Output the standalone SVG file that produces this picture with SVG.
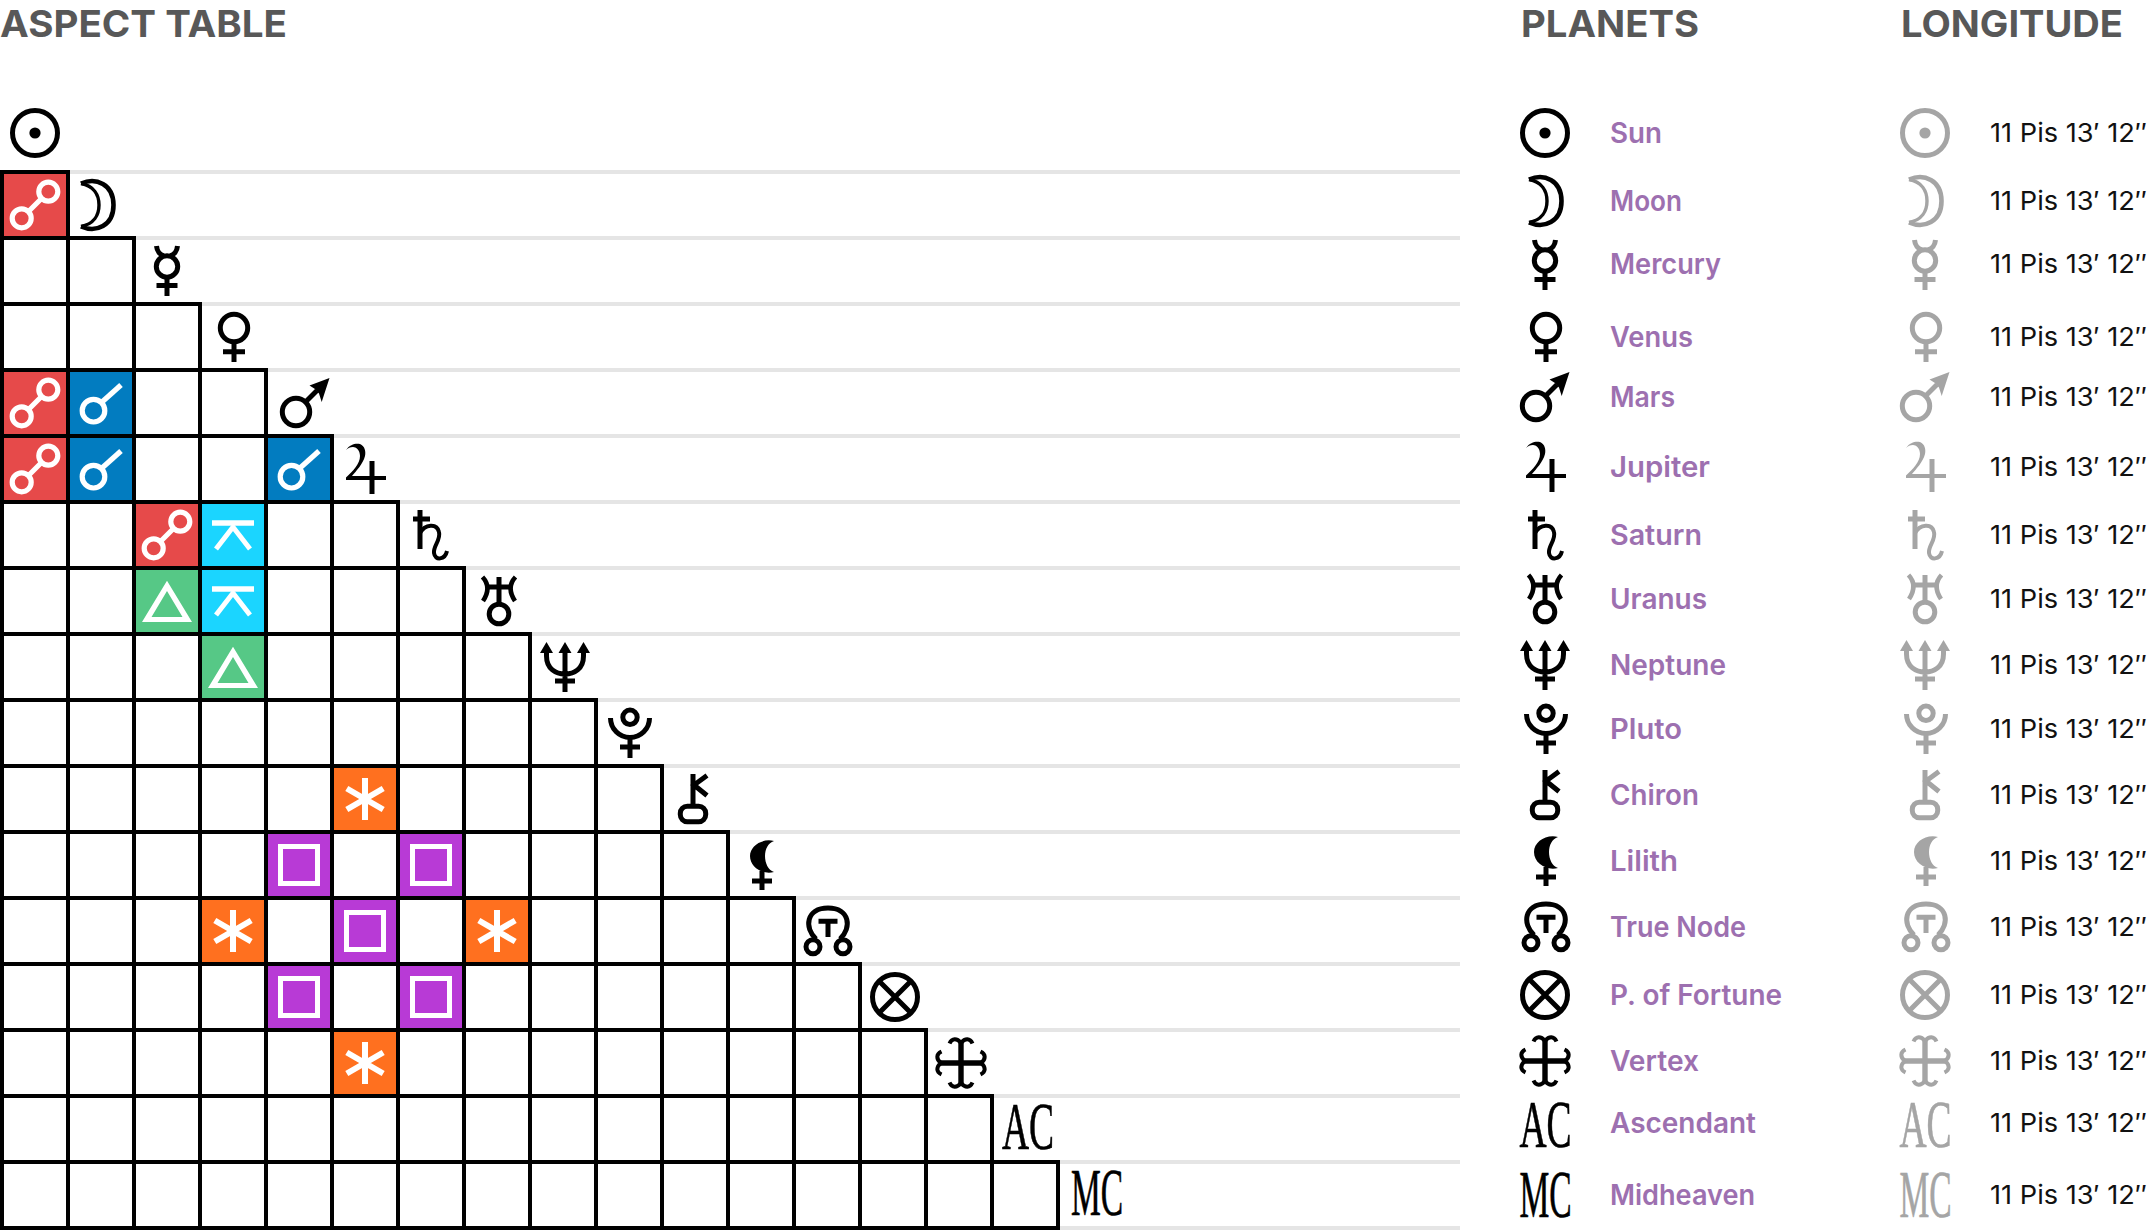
<svg xmlns="http://www.w3.org/2000/svg" width="2156" height="1230" viewBox="0 0 2156 1230">
<style>
text{font-family:"Inter","Liberation Sans",sans-serif}
.h{font-size:37.5px;font-weight:700;fill:#585858}
.l{font-size:28px;font-weight:600;fill:#9d70b0}
.v{font-size:26px;font-weight:400;fill:#111}
.s{font-family:"Liberation Serif",serif;font-size:67px;fill:currentColor;stroke:currentColor;stroke-width:.7}
.g{fill:none;stroke:currentColor;stroke-width:5}
.f{fill:currentColor;stroke:none}
.k{color:#000}.m{color:#a5a5a5}
.a{fill:none;stroke:#fff;stroke-width:5.2}
.af{fill:#fff;stroke:none;fill-rule:evenodd}
.red{fill:#e64a4a}.blue{fill:#027cc0}.cyan{fill:#1bd5ff}.green{fill:#56c886}.orange{fill:#ff701f}.purple{fill:#b83ad6}
#grid{fill:none;stroke:#000;stroke-width:4}
#rules{fill:none;stroke:#e5e5e5;stroke-width:4}
</style>
<defs>
<g id="i-sun"><circle class="g" cx="0" cy="25" r="22.5"/><circle class="f" cx="0" cy="25" r="5.6"/></g>
<g id="i-moon"><path class="g" style="stroke-width:4.6" d="M-17,3.5C-2,-3 15.5,4 15.5,25C15.5,46 -2,53 -17,46.5"/><path class="g" style="stroke-width:3.4" d="M-17,3.5C-4,6 1,15 1,25C1,35 -4,44 -17,46.5"/></g>
<g id="i-mercury"><circle class="g" cx="0" cy="20.5" r="10.7"/><path class="g" d="M-10.5,0C-10,5 -7,9 -3,10M10.5,0C10,5 7,9 3,10M0,31V50M-10.5,39.5H10.5"/></g>
<g id="i-venus"><circle class="g" cx="0" cy="16" r="13.7"/><path class="g" d="M0,30V50M-11,39.7H11"/></g>
<g id="i-mars"><circle class="g" cx="-9" cy="34" r="13.7"/><path class="g" d="M1,23.5L12,12.5"/><path class="f" d="M24.5,0L4.5,7.5L10,11L14,15.5L16.7,24Z"/></g>
<g id="i-jupiter"><path class="f" d="M-20,6C-16,0 -10,-1 -6,0C-1,2 0,8 -1,12C-3,20 -10,27 -14,32H20V36H-20V33.5C-13,27 -6,20 -6,12C-6,6 -10,3 -13,3C-16,3 -18,4 -20,6Z"/><path class="g" d="M6,17V50"/></g>
<g id="i-saturn"><path class="g" d="M-11,0V39M-18,9H-1"/><path class="g" style="stroke-width:4" d="M-11,23C-6,14 6,13 8,22C10,30 2,36 3,43C4,51 14,50 16,41"/></g>
<g id="i-uranus"><circle class="g" cx="0" cy="38" r="9.8"/><path class="g" d="M0,1V28M-12,11H12"/><path class="g" style="stroke-width:4.6" d="M-16.5,1C-10,8 -10,16 -16,25M16.5,1C10,8 10,16 16,25"/></g>
<g id="i-neptune"><path class="g" d="M0,6V50M-10,39H10M-18.5,8V14C-18.5,27 -9,32 0,32C9,32 18.5,27 18.5,14V8"/><path class="f" d="M0,0L6.5,11H-6.5ZM-18.5,0L-12,11H-25ZM18.5,0L25,11H12Z"/></g>
<g id="i-pluto"><circle class="g" cx="0" cy="9.3" r="7.2"/><path class="g" d="M-19.5,10A19.5,19.5 0 0 0 19.5,10M0,29V50M-10,39H10"/></g>
<g id="i-chiron"><rect class="g" x="-12.7" y="32.2" width="25.4" height="15.5" rx="7"/><path class="g" d="M0,0V32M14,1.5L1,11L14,21.5"/></g>
<g id="i-lilith"><path class="f" d="M12,1C0,-2 -12,6 -12,16C-12,27 0,35 12,32C6,30 3,23 3,16C3,9 6,3 12,1Z"/><path class="g" d="M0,31V50M-10,41H10"/></g>
<g id="i-node"><path class="g" d="M-12,33C-24,22 -22,2 0,2C22,2 24,22 12,33M-9.5,15.3H9.5M0,15V31"/><circle class="g" cx="-15" cy="40.7" r="7"/><circle class="g" cx="15" cy="40.7" r="7"/></g>
<g id="i-fortune"><circle class="g" cx="0" cy="25" r="22.5"/><path class="g" d="M-16,9L16,41M16,9L-16,41"/></g>
<g id="i-vertex"><path class="g" style="stroke-width:5.4" d="M0,4V46M-21,25H21"/><g id="i-vc"><path class="g" style="stroke-width:4" d="M-11.5,5.5C-9,0 -4,0 0,5C4,0 9,0 11.5,5.5"/></g><use href="#i-vc" transform="rotate(90 0 25)"/><use href="#i-vc" transform="rotate(180 0 25)"/><use href="#i-vc" transform="rotate(270 0 25)"/></g>
<g id="a-opp"><circle class="a" cx="13.3" cy="-13.3" r="9.5"/><circle class="a" cx="-13.3" cy="13.3" r="9.5"/><path class="a" d="M-6.5,6.5L6.5,-6.5"/></g>
<g id="a-con"><circle class="a" cx="-7.5" cy="7.7" r="11.3"/><path class="a" d="M1,-1L20,-18"/></g>
<g id="a-qui"><path class="a" style="stroke-width:5.5" d="M-21,-12H21"/><path class="a" style="stroke-width:5" d="M-17,14L0,-8L17,14"/></g>
<g id="a-tri"><path class="af" d="M0,-20.3L25,21H-25ZM0,-10L-15.5,16H15.5Z"/></g>
<g id="a-sex"><path class="a" style="stroke-width:6" d="M0,-21V21M-18.2,-10.5L18.2,10.5M-18.2,10.5L18.2,-10.5"/></g>
<g id="a-squ"><rect class="a" style="stroke-width:5" x="-18.5" y="-18.5" width="37" height="37"/></g>
</defs>

<g id="titles">
<text class="h" x="0" y="37" textLength="287" lengthAdjust="spacingAndGlyphs">ASPECT TABLE</text>
<text class="h" x="1521" y="37" textLength="178" lengthAdjust="spacingAndGlyphs">PLANETS</text>
<text class="h" x="1901" y="37" textLength="222" lengthAdjust="spacingAndGlyphs">LONGITUDE</text>
</g>

<g id="aspects">
<g id="c1-1"><rect class="red" x="2" y="172" width="66" height="66"/><use href="#a-opp" transform="translate(35,205)"/></g>
<g id="c4-1"><rect class="red" x="2" y="370" width="66" height="66"/><use href="#a-opp" transform="translate(35,403)"/></g>
<g id="c4-2"><rect class="blue" x="68" y="370" width="66" height="66"/><use href="#a-con" transform="translate(101,403)"/></g>
<g id="c5-1"><rect class="red" x="2" y="436" width="66" height="66"/><use href="#a-opp" transform="translate(35,469)"/></g>
<g id="c5-2"><rect class="blue" x="68" y="436" width="66" height="66"/><use href="#a-con" transform="translate(101,469)"/></g>
<g id="c5-5"><rect class="blue" x="266" y="436" width="66" height="66"/><use href="#a-con" transform="translate(299,469)"/></g>
<g id="c6-3"><rect class="red" x="134" y="502" width="66" height="66"/><use href="#a-opp" transform="translate(167,535)"/></g>
<g id="c6-4"><rect class="cyan" x="200" y="502" width="66" height="66"/><use href="#a-qui" transform="translate(233,535)"/></g>
<g id="c7-3"><rect class="green" x="134" y="568" width="66" height="66"/><use href="#a-tri" transform="translate(167,601)"/></g>
<g id="c7-4"><rect class="cyan" x="200" y="568" width="66" height="66"/><use href="#a-qui" transform="translate(233,601)"/></g>
<g id="c8-4"><rect class="green" x="200" y="634" width="66" height="66"/><use href="#a-tri" transform="translate(233,667)"/></g>
<g id="c10-6"><rect class="orange" x="332" y="766" width="66" height="66"/><use href="#a-sex" transform="translate(365,799)"/></g>
<g id="c11-5"><rect class="purple" x="266" y="832" width="66" height="66"/><use href="#a-squ" transform="translate(299,865)"/></g>
<g id="c11-7"><rect class="purple" x="398" y="832" width="66" height="66"/><use href="#a-squ" transform="translate(431,865)"/></g>
<g id="c12-4"><rect class="orange" x="200" y="898" width="66" height="66"/><use href="#a-sex" transform="translate(233,931)"/></g>
<g id="c12-6"><rect class="purple" x="332" y="898" width="66" height="66"/><use href="#a-squ" transform="translate(365,931)"/></g>
<g id="c12-8"><rect class="orange" x="464" y="898" width="66" height="66"/><use href="#a-sex" transform="translate(497,931)"/></g>
<g id="c13-5"><rect class="purple" x="266" y="964" width="66" height="66"/><use href="#a-squ" transform="translate(299,997)"/></g>
<g id="c13-7"><rect class="purple" x="398" y="964" width="66" height="66"/><use href="#a-squ" transform="translate(431,997)"/></g>
<g id="c14-6"><rect class="orange" x="332" y="1030" width="66" height="66"/><use href="#a-sex" transform="translate(365,1063)"/></g>
</g>

<g id="connectors">
<path id="rules" d="M70 172H1460M136 238H1460M202 304H1460M268 370H1460M334 436H1460M400 502H1460M466 568H1460M532 634H1460M598 700H1460M664 766H1460M730 832H1460M796 898H1460M862 964H1460M928 1030H1460M994 1096H1460M1060 1162H1460M1060 1228H1460"/>
<path id="grid" d="M0 172H70M0 238H136M0 304H202M0 370H268M0 436H334M0 502H400M0 568H466M0 634H532M0 700H598M0 766H664M0 832H730M0 898H796M0 964H862M0 1030H928M0 1096H994M0 1162H1060M0 1228H1060M2 170V1230M68 170V1230M134 236V1230M200 302V1230M266 368V1230M332 434V1230M398 500V1230M464 566V1230M530 632V1230M596 698V1230M662 764V1230M728 830V1230M794 896V1230M860 962V1230M926 1028V1230M992 1094V1230M1058 1160V1230"/>
</g>

<g id="table-glyphs" class="k">
<use id="t-sun" href="#i-sun" transform="translate(35,108)"/>
<use id="t-moon" href="#i-moon" transform="translate(98,180)"/>
<use id="t-mercury" href="#i-mercury" transform="translate(167,246)"/>
<use id="t-venus" href="#i-venus" transform="translate(234,312)"/>
<use id="t-mars" href="#i-mars" transform="translate(305,378)"/>
<use id="t-jupiter" href="#i-jupiter" transform="translate(366,444)"/>
<use id="t-saturn" href="#i-saturn" transform="translate(431,510)"/>
<use id="t-uranus" href="#i-uranus" transform="translate(499,576)"/>
<use id="t-neptune" href="#i-neptune" transform="translate(565,642)"/>
<use id="t-pluto" href="#i-pluto" transform="translate(630,708)"/>
<use id="t-chiron" href="#i-chiron" transform="translate(693,774)"/>
<use id="t-lilith" href="#i-lilith" transform="translate(762,840)"/>
<use id="t-node" href="#i-node" transform="translate(828,906)"/>
<use id="t-fortune" href="#i-fortune" transform="translate(895,972)"/>
<use id="t-vertex" href="#i-vertex" transform="translate(961,1038)"/>
<text id="t-ac" class="s" transform="translate(1002,1149) scale(.56,1)">AC</text>
<text id="t-mc" class="s" transform="translate(1071,1215) scale(.5,1)">MC</text>
</g>

<g id="planets" class="k">
<g id="p-sun"><use href="#i-sun" transform="translate(1545,108)"/><text class="l" x="1610" y="143" textLength="52" lengthAdjust="spacingAndGlyphs">Sun</text></g>
<g id="p-moon"><use href="#i-moon" transform="translate(1546,176)"/><text class="l" x="1610" y="211" textLength="72" lengthAdjust="spacingAndGlyphs">Moon</text></g>
<g id="p-mercury"><use href="#i-mercury" transform="translate(1545,240)"/><text class="l" x="1610" y="274" textLength="111" lengthAdjust="spacingAndGlyphs">Mercury</text></g>
<g id="p-venus"><use href="#i-venus" transform="translate(1546,312)"/><text class="l" x="1610" y="347" textLength="83" lengthAdjust="spacingAndGlyphs">Venus</text></g>
<g id="p-mars"><use href="#i-mars" transform="translate(1545,372)"/><text class="l" x="1610" y="407" textLength="65" lengthAdjust="spacingAndGlyphs">Mars</text></g>
<g id="p-jupiter"><use href="#i-jupiter" transform="translate(1546,442)"/><text class="l" x="1610" y="477" textLength="100" lengthAdjust="spacingAndGlyphs">Jupiter</text></g>
<g id="p-saturn"><use href="#i-saturn" transform="translate(1546,510)"/><text class="l" x="1610" y="545" textLength="92" lengthAdjust="spacingAndGlyphs">Saturn</text></g>
<g id="p-uranus"><use href="#i-uranus" transform="translate(1545,574)"/><text class="l" x="1610" y="609" textLength="97" lengthAdjust="spacingAndGlyphs">Uranus</text></g>
<g id="p-neptune"><use href="#i-neptune" transform="translate(1545,640)"/><text class="l" x="1610" y="675" textLength="116" lengthAdjust="spacingAndGlyphs">Neptune</text></g>
<g id="p-pluto"><use href="#i-pluto" transform="translate(1546,704)"/><text class="l" x="1610" y="739" textLength="72" lengthAdjust="spacingAndGlyphs">Pluto</text></g>
<g id="p-chiron"><use href="#i-chiron" transform="translate(1545,770)"/><text class="l" x="1610" y="805" textLength="89" lengthAdjust="spacingAndGlyphs">Chiron</text></g>
<g id="p-lilith"><use href="#i-lilith" transform="translate(1546,836)"/><text class="l" x="1610" y="871" textLength="68" lengthAdjust="spacingAndGlyphs">Lilith</text></g>
<g id="p-node"><use href="#i-node" transform="translate(1546,902)"/><text class="l" x="1610" y="937" textLength="136" lengthAdjust="spacingAndGlyphs">True Node</text></g>
<g id="p-fortune"><use href="#i-fortune" transform="translate(1545,970)"/><text class="l" x="1610" y="1005" textLength="172" lengthAdjust="spacingAndGlyphs">P. of Fortune</text></g>
<g id="p-vertex"><use href="#i-vertex" transform="translate(1545,1036)"/><text class="l" x="1610" y="1071" textLength="89" lengthAdjust="spacingAndGlyphs">Vertex</text></g>
<g id="p-ac"><text class="s" transform="translate(1519.5,1147) scale(.56,1)">AC</text><text class="l" x="1610" y="1133" textLength="146" lengthAdjust="spacingAndGlyphs">Ascendant</text></g>
<g id="p-mc"><text class="s" transform="translate(1519.5,1217) scale(.5,1)">MC</text><text class="l" x="1610" y="1205" textLength="145" lengthAdjust="spacingAndGlyphs">Midheaven</text></g>
</g>

<g id="longitudes" class="m">
<g id="l-sun"><use href="#i-sun" transform="translate(1925,108)"/><text class="v" x="1990" y="142" textLength="157" lengthAdjust="spacingAndGlyphs">11 Pis 13′ 12″</text></g>
<g id="l-moon"><use href="#i-moon" transform="translate(1926,176)"/><text class="v" x="1990" y="210" textLength="157" lengthAdjust="spacingAndGlyphs">11 Pis 13′ 12″</text></g>
<g id="l-mercury"><use href="#i-mercury" transform="translate(1925,240)"/><text class="v" x="1990" y="273" textLength="157" lengthAdjust="spacingAndGlyphs">11 Pis 13′ 12″</text></g>
<g id="l-venus"><use href="#i-venus" transform="translate(1926,312)"/><text class="v" x="1990" y="346" textLength="157" lengthAdjust="spacingAndGlyphs">11 Pis 13′ 12″</text></g>
<g id="l-mars"><use href="#i-mars" transform="translate(1925,372)"/><text class="v" x="1990" y="406" textLength="157" lengthAdjust="spacingAndGlyphs">11 Pis 13′ 12″</text></g>
<g id="l-jupiter"><use href="#i-jupiter" transform="translate(1926,442)"/><text class="v" x="1990" y="476" textLength="157" lengthAdjust="spacingAndGlyphs">11 Pis 13′ 12″</text></g>
<g id="l-saturn"><use href="#i-saturn" transform="translate(1926,510)"/><text class="v" x="1990" y="544" textLength="157" lengthAdjust="spacingAndGlyphs">11 Pis 13′ 12″</text></g>
<g id="l-uranus"><use href="#i-uranus" transform="translate(1925,574)"/><text class="v" x="1990" y="608" textLength="157" lengthAdjust="spacingAndGlyphs">11 Pis 13′ 12″</text></g>
<g id="l-neptune"><use href="#i-neptune" transform="translate(1925,640)"/><text class="v" x="1990" y="674" textLength="157" lengthAdjust="spacingAndGlyphs">11 Pis 13′ 12″</text></g>
<g id="l-pluto"><use href="#i-pluto" transform="translate(1926,704)"/><text class="v" x="1990" y="738" textLength="157" lengthAdjust="spacingAndGlyphs">11 Pis 13′ 12″</text></g>
<g id="l-chiron"><use href="#i-chiron" transform="translate(1925,770)"/><text class="v" x="1990" y="804" textLength="157" lengthAdjust="spacingAndGlyphs">11 Pis 13′ 12″</text></g>
<g id="l-lilith"><use href="#i-lilith" transform="translate(1926,836)"/><text class="v" x="1990" y="870" textLength="157" lengthAdjust="spacingAndGlyphs">11 Pis 13′ 12″</text></g>
<g id="l-node"><use href="#i-node" transform="translate(1926,902)"/><text class="v" x="1990" y="936" textLength="157" lengthAdjust="spacingAndGlyphs">11 Pis 13′ 12″</text></g>
<g id="l-fortune"><use href="#i-fortune" transform="translate(1925,970)"/><text class="v" x="1990" y="1004" textLength="157" lengthAdjust="spacingAndGlyphs">11 Pis 13′ 12″</text></g>
<g id="l-vertex"><use href="#i-vertex" transform="translate(1925,1036)"/><text class="v" x="1990" y="1070" textLength="157" lengthAdjust="spacingAndGlyphs">11 Pis 13′ 12″</text></g>
<g id="l-ac"><text class="s" transform="translate(1899.5,1147) scale(.56,1)">AC</text><text class="v" x="1990" y="1132" textLength="157" lengthAdjust="spacingAndGlyphs">11 Pis 13′ 12″</text></g>
<g id="l-mc"><text class="s" transform="translate(1899.5,1217) scale(.5,1)">MC</text><text class="v" x="1990" y="1204" textLength="157" lengthAdjust="spacingAndGlyphs">11 Pis 13′ 12″</text></g>
</g>
</svg>
